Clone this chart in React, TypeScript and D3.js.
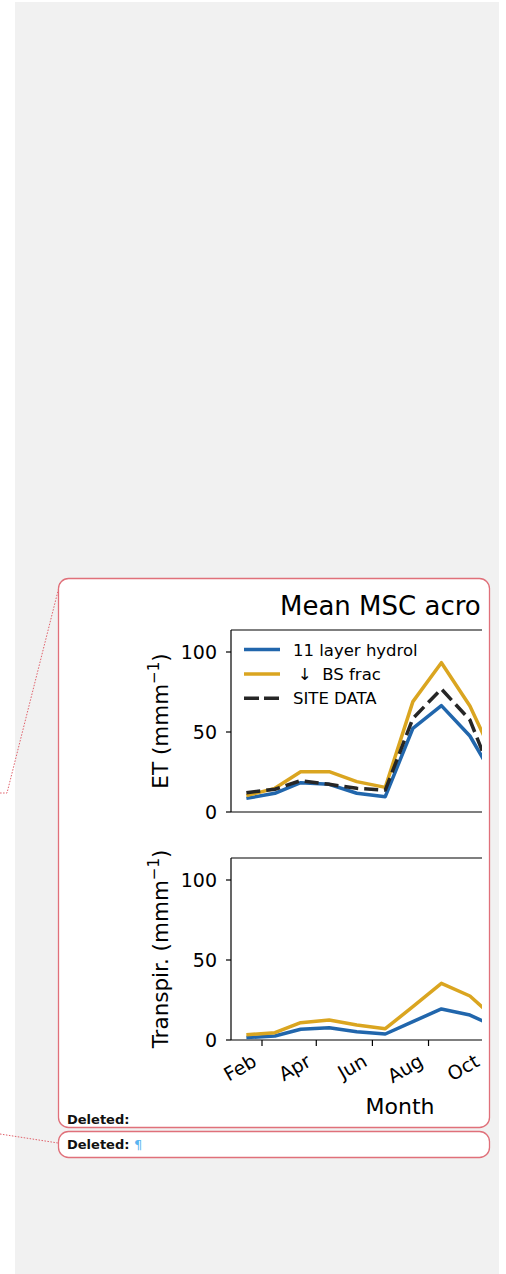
import React, { useEffect, useRef } from 'react';
import * as d3 from 'd3';

// mid-month dates (full year sets the x domain, values visible through Oct)
const months = [
  '2001-01-15', '2001-02-15', '2001-03-15', '2001-04-15', '2001-05-15', '2001-06-15',
  '2001-07-15', '2001-08-15', '2001-09-15', '2001-10-15', '2001-11-15', '2001-12-15',
];
const etHydrol = [8.5, 11.7, 18.3, 17.3, 11.7, 9.6, 52.3, 66.5, 47.5, 17.9];
const etBsFrac = [10.2, 14.8, 25.2, 25.2, 19, 15.4, 69, 93.3, 66.3, 29.4];
const etSite = [12, 14.2, 19.6, 17.3, 14.8, 13.7, 58.5, 76.9, 57.5, 14.4];
const trHydrol = [1.5, 2.5, 6.7, 7.7, 5.2, 3.75, 11.5, 19.4, 15.6, 7.6];
const trBsFrac = [3.3, 4.6, 10.8, 12.5, 9.4, 7.1, 20.8, 35.4, 27.5, 12.1];
const yTicks = [0, 50, 100];
const legendLabels = ['11 layer hydrol', '↓ BS frac', 'SITE DATA'];

const BLUE = '#2166ac';
const GOLD = '#daa520';
const DARK = '#262626';
const FONT = 'DejaVu Sans, sans-serif';

const App = () => {
  const svgRef = useRef<SVGSVGElement | null>(null);

  useEffect(() => {
    if (!svgRef.current) return;
    const svg = d3.select(svgRef.current);
    svg.selectAll('*').remove();

    // page background and comment boxes
    svg.append('rect').attr('x', 15).attr('y', 2).attr('width', 484).attr('height', 1272).attr('fill', '#f1f1f1');
    svg.append('polyline')
      .attr('points', '60,583 7,793 0,793')
      .attr('fill', 'none').attr('stroke', '#e0606a').attr('stroke-width', 1).attr('stroke-dasharray', '1.5,1.5');
    svg.append('polyline')
      .attr('points', '0,1134 58,1143')
      .attr('fill', 'none').attr('stroke', '#e0606a').attr('stroke-width', 1).attr('stroke-dasharray', '1.5,1.5');
    svg.append('rect').attr('x', 58.5).attr('y', 578.5).attr('width', 431).attr('height', 549).attr('rx', 10)
      .attr('fill', '#fff').attr('stroke', '#e0707a').attr('stroke-width', 1.3);
    svg.append('rect').attr('x', 58.5).attr('y', 1131.5).attr('width', 431).attr('height', 26).attr('rx', 10)
      .attr('fill', '#fff').attr('stroke', '#e0707a').attr('stroke-width', 1.3);
    svg.append('text').attr('x', 67).attr('y', 1124).attr('font-family', FONT).attr('font-size', 13)
      .attr('font-weight', 'bold').attr('fill', '#111').text('Deleted:');
    const del2 = svg.append('text').attr('x', 67).attr('y', 1149).attr('font-family', FONT).attr('font-size', 13)
      .attr('font-weight', 'bold').attr('fill', '#111');
    del2.append('tspan').text('Deleted: ');
    del2.append('tspan').attr('fill', '#5ab4f0').attr('font-weight', 'normal').text('¶');

    const defs = svg.append('defs');
    defs.append('clipPath').attr('id', 'figClip').append('rect')
      .attr('x', 0).attr('y', 560).attr('width', 482).attr('height', 580);
    defs.append('clipPath').attr('id', 'axTop').append('rect')
      .attr('x', 231).attr('y', 630).attr('width', 251).attr('height', 182);
    defs.append('clipPath').attr('id', 'axBot').append('rect')
      .attr('x', 231).attr('y', 858).attr('width', 251).attr('height', 182);

    const fig = svg.append('g').attr('clip-path', 'url(#figClip)').attr('font-family', FONT);

    const dates = months.map(m => d3.timeParse('%Y-%m-%d')(m)!);
    const [d0, d1] = d3.extent(dates) as [Date, Date];
    const pad = (d1.getTime() - d0.getTime()) * 0.05;
    const x = d3.scaleTime()
      .domain([new Date(d0.getTime() - pad), new Date(d1.getTime() + pad)])
      .range([231, 569]);

    const yTop = d3.scaleLinear().domain([0, 113.75]).range([812, 630]);
    const yBot = d3.scaleLinear().domain([0, 113.75]).range([1040, 858]);

    // title (cut off by the comment box)
    fig.append('text').attr('x', 280).attr('y', 615).attr('font-size', 26).attr('fill', '#000').text('Mean MSC acro');

    const drawAxes = (y: d3.ScaleLinear<number, number>, top: number, bottom: number, label: string) => {
      const g = fig.append('g');
      g.append('line').attr('x1', 231).attr('x2', 569).attr('y1', top).attr('y2', top).attr('stroke', '#000').attr('stroke-width', 1.2);
      g.append('line').attr('x1', 231).attr('x2', 569).attr('y1', bottom).attr('y2', bottom).attr('stroke', '#000').attr('stroke-width', 1.2);
      g.append('line').attr('x1', 231).attr('x2', 231).attr('y1', top).attr('y2', bottom).attr('stroke', '#000').attr('stroke-width', 1.2);
      yTicks.forEach(t => {
        g.append('line').attr('x1', 226).attr('x2', 231).attr('y1', y(t)).attr('y2', y(t)).attr('stroke', '#000').attr('stroke-width', 1.2);
        g.append('text').attr('x', 217).attr('y', y(t) + 7).attr('text-anchor', 'end').attr('font-size', 19).text(t);
      });
      const cy = (top + bottom) / 2;
      const t = g.append('text').attr('transform', `translate(168,${cy}) rotate(-90)`)
        .attr('text-anchor', 'middle').attr('font-size', 21.5);
      t.append('tspan').text(label + ' (mmm');
      t.append('tspan').attr('dy', -9).attr('font-size', 15).text('−1');
      t.append('tspan').attr('dy', 9).text(')');
    };

    drawAxes(yTop, 630, 812, 'ET');
    drawAxes(yBot, 858, 1040, 'Transpir.');

    const drawLine = (vals: number[], y: d3.ScaleLinear<number, number>, clip: string, color: string, dash?: string) => {
      const line = d3.line<number>()
        .x((_, i) => x(dates[i]))
        .y(v => y(v));
      const p = fig.append('path').datum(vals)
        .attr('clip-path', `url(#${clip})`)
        .attr('fill', 'none').attr('stroke', color).attr('stroke-width', 3.5)
        .attr('stroke-linejoin', 'round')
        .attr('d', line);
      if (dash) p.attr('stroke-dasharray', dash);
    };

    drawLine(etHydrol, yTop, 'axTop', BLUE);
    drawLine(etBsFrac, yTop, 'axTop', GOLD);
    drawLine(etSite, yTop, 'axTop', DARK, '14,6');
    drawLine(trHydrol, yBot, 'axBot', BLUE);
    drawLine(trBsFrac, yBot, 'axBot', GOLD);

    // legend (no frame)
    const legColors = [BLUE, GOLD, DARK];
    legendLabels.forEach((lab, i) => {
      const cy = 649.5 + i * 24.4;
      const l = fig.append('line').attr('x1', 244).attr('x2', 280).attr('y1', cy).attr('y2', cy)
        .attr('stroke', legColors[i]).attr('stroke-width', 3.5);
      if (i === 2) l.attr('stroke-dasharray', '15,5');
      fig.append('text').attr('x', i === 1 ? 298 : 293).attr('y', cy + 6).attr('font-size', 16.5)
        .attr('xml:space', 'preserve').text(i === 1 ? '↓  BS frac' : lab);
    });

    // shared x axis on the lower panel: every other month starting with Feb
    // (ticks past the comment box edge are hidden, so leave them out)
    const ticks = x.ticks(d3.timeMonth.every(1)!)
      .filter(d => d.getMonth() % 2 === 1 && x(d) < 490);
    ticks.forEach(d => {
      const tx = x(d);
      fig.append('line').attr('x1', tx).attr('x2', tx).attr('y1', 1040).attr('y2', 1046)
        .attr('stroke', '#000').attr('stroke-width', 1.2);
      fig.append('text').attr('transform', `translate(${tx - 4},${1065}) rotate(-30)`)
        .attr('text-anchor', 'end').attr('font-size', 19).text(d3.timeFormat('%b')(d));
    });
    fig.append('text').attr('x', 400).attr('y', 1114).attr('text-anchor', 'middle').attr('font-size', 22).text('Month');
  }, []);

  return (
    <svg ref={svgRef} width={506} height={1274}
      style={{ position: 'absolute', left: 0, top: 0, background: '#fff' }} />
  );
};

export default App;
